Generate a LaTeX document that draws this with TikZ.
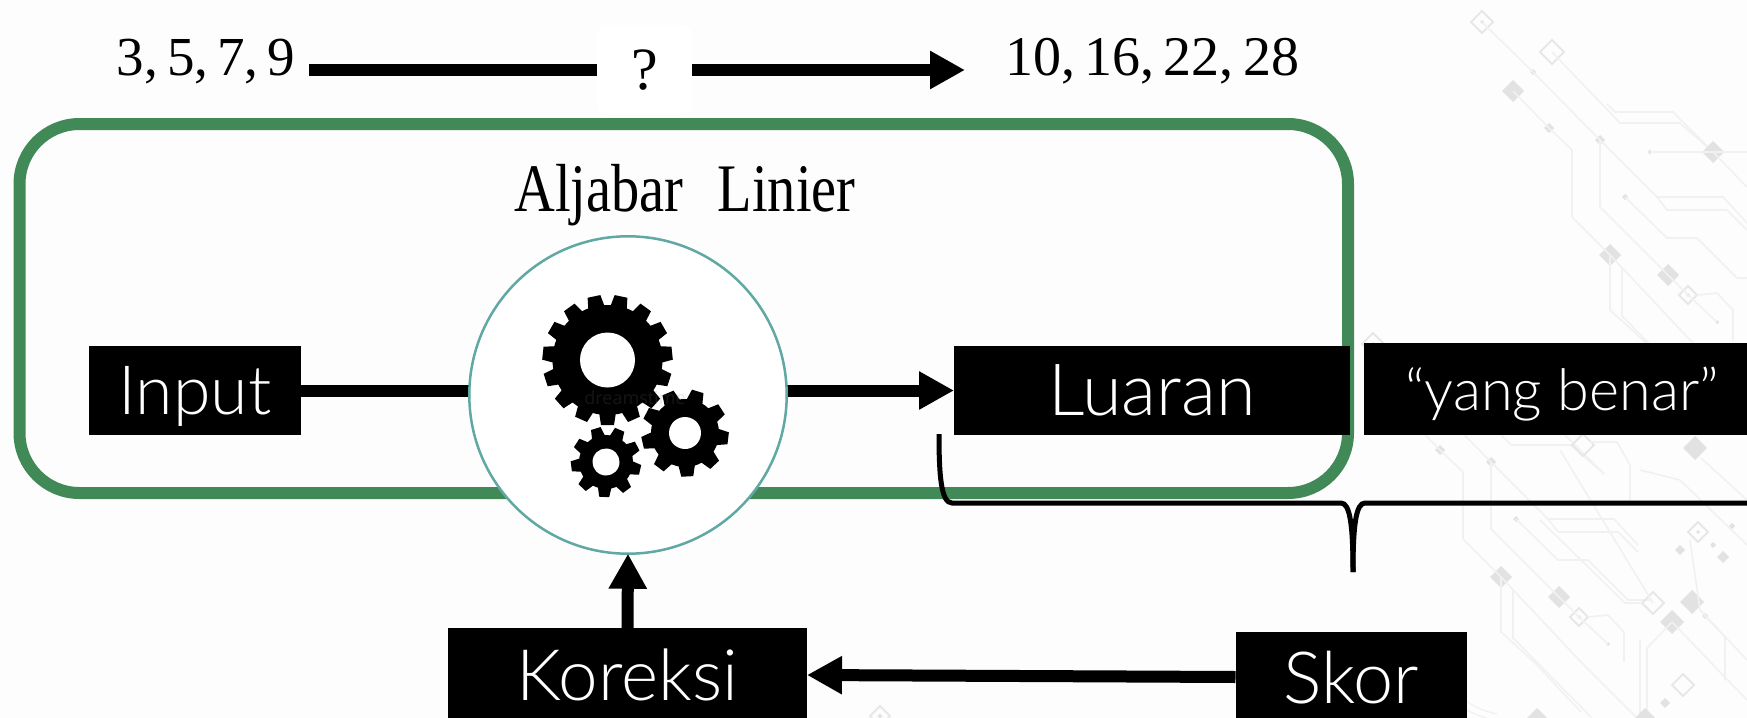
\documentclass[tikz,border=0pt]{standalone}
\usepackage{fontspec}
\usetikzlibrary{arrows.meta,calc}
\setmainfont{Liberation Serif}
\newfontfamily\rw{Lato Light}
\newfontfamily\wm{Open Sans}
\definecolor{bgc}{HTML}{FDFDFD}
\definecolor{greenb}{HTML}{418A58}
\definecolor{tealc}{HTML}{5FA8A3}
\definecolor{cline}{HTML}{F1F1F1}
\definecolor{cfill}{HTML}{E2E2E2}
\tikzset{
  blackbox/.style={fill=black,text=white,inner sep=0pt,outer sep=0pt,text depth=0pt,font=\rw\fontsize{34}{40}\selectfont},
  thickline/.style={draw=black,line width=6pt},
  thickarrow/.style={thickline,-{Triangle[length=17.5pt,width=18pt]}},
  bracel/.style={draw=black,line width=2.5pt},
  numlabel/.style={inner sep=0pt,outer sep=0pt,anchor=base,font=\fontsize{27.5}{32}\selectfont},
  cl/.style={draw=cline,line width=0.8pt},
  fd/.style={fill=cfill},
  od/.style={draw=cline!96!black,line width=0.9pt}
}
\newcommand{\fdia}[3]{\fill[fd] (#1-#3,#2) -- (#1,#2-#3) -- (#1+#3,#2) -- (#1,#2+#3) -- cycle;}
\newcommand{\odia}[3]{\draw[od] (#1-#3,#2) -- (#1,#2-#3) -- (#1+#3,#2) -- (#1,#2+#3) -- cycle;}
\newcommand{\circuitcommon}{%
  \odia{1482}{22}{11}\fdia{1482}{22}{2}
  \odia{1552}{52}{12}
  \fdia{1513}{91}{11}\fdia{1533}{72}{3}\fdia{1549}{128}{5}\fdia{1600}{140}{5}
  \fdia{1625}{197}{3}
  \fdia{1610}{255}{11}\fdia{1668}{275}{11}
  \odia{1688}{295}{9}\fdia{1688}{295}{2}\fdia{1717}{322}{2}
  \draw[cl] (1482,22) -- (1533,72) -- (1600,140) -- (1657,197) -- (1723,197) -- (1747,223);
  \draw[cl] (1657,197) -- (1667,210) -- (1727,210) -- (1747,230);
  \draw[cl] (1552,52) -- (1620,123) -- (1680,123) -- (1713,152);
  \draw[cl] (1607,104) -- (1615,112) -- (1673,112) -- (1713,152);
  \draw[cl] (1513,91) -- (1549,128) -- (1572,150) -- (1572,217) -- (1610,255) -- (1690,340) -- (1760,410);
  \draw[cl] (1600,140) -- (1600,207) -- (1668,275) -- (1688,295) -- (1717,322);
  \draw[cl] (1625,197) -- (1667,238) -- (1697,238) -- (1737,278) -- (1760,278);
  \draw[cl] (1610,255) -- (1610,310) -- (1643,340) -- (1690,390);
  \draw[cl] (1622,267) -- (1622,316) -- (1700,395);
  \draw[cl] (1697,295) -- (1717,293) -- (1733,310) -- (1733,340);
}
\newcommand{\gearshape}[9]{%
  \begin{scope}[shift={(#1,#2)},rotate=#7]
    \fill[black] (0,0) circle[radius=#3];
    \foreach \k in {1,...,#6}{
      \fill[black,rotate=\k*360/#6] (#3-3,-#9) -- (#4,-#8) -- (#4,#8) -- (#3-3,#9) -- cycle;
    }
    \fill[white] (0,0) circle[radius=#5];
  \end{scope}
}
\begin{document}
\begin{tikzpicture}[x=0.5pt,y=-0.5pt]
\useasboundingbox (0,0) rectangle (1747,718);
\fill[bgc] (0,0) rectangle (1747,718);
% faint circuit background
\begin{scope}
  \clip (0,0) rectangle (1747,718);
  \circuitcommon
  \fdia{1713}{152}{11}\fdia{1650}{152}{2.5}
  \draw[cl] (1650,152) -- (1747,152);
  \draw[cl] (1713,152) -- (1747,187);
  \begin{scope}[shift={(-109,322)}]
    \circuitcommon
  \end{scope}
  \odia{1583}{445}{11}\fdia{1695}{448}{12}
  \draw[cl] (1590,442) -- (1617,442) -- (1630,465) -- (1630,500);
  \draw[cl] (1640,470) -- (1680,480) -- (1747,545);
  \draw[cl] (1701,458) -- (1747,500);
  \odia{1698}{532}{10}\fdia{1698}{532}{2}\fdia{1680}{550}{5}\fdia{1713}{545}{3}\fdia{1732}{526}{3}\fdia{1723}{557}{6}
  \odia{1653}{603}{11}\fdia{1692}{602}{12}\fdia{1672}{622}{12}
  \odia{1683}{685}{11}\fdia{1665}{703}{5}\fdia{1705}{616}{3}
  \draw[cl] (1560,450) -- (1653,603);
  \draw[cl] (1642,603) -- (1625,603) -- (1540,520);
  \draw[cl] (1672,622) -- (1647,648) -- (1647,718);
  \draw[cl] (1705,616) -- (1725,637) -- (1725,680);
  \draw[cl] (1672,622) -- (1747,700);
  \draw[cl] (1690,540) -- (1700,610) -- (1747,660);
  \draw[cl] (1640,640) -- (1640,718);
  \fdia{1537}{718}{10}\fdia{1645}{718}{10}
  \odia{880}{716}{10}\fdia{880}{716}{2.5}
  \draw[cline,line width=0.6pt] (1422,632) arc[start angle=180,end angle=95,radius=90];
  \draw[cline,line width=0.6pt] (1435,640) arc[start angle=180,end angle=100,radius=75];
\end{scope}
% green frame
\draw[greenb,line width=6pt,rounded corners=30pt] (19.5,124) rectangle (1348,493);
% top row
\node[numlabel,minimum width=103pt] (nin) at (206,75) {3,\,5,\,7,\,9};
\node[numlabel,minimum width=187pt,font=\fontsize{28}{32}\selectfont] (nout) at (1152,75) {10,\,16,\,22,\,28};
\node[fill=white,rounded corners=5pt,inner sep=0pt,outer sep=0pt,minimum width=47.5pt,minimum height=45pt,font=\fontsize{30}{34}\selectfont] (q) at (644.5,70) {?};
\draw[thickline] (q.west -| nin.east) -- (q.west);
\draw[thickarrow] (q.east) -- (q.east -| nout.west);
% label
\node[inner sep=0pt,anchor=base,font=\fontsize{34}{40}\selectfont] (alj) at (685,211) {\scalebox{0.83}[1]{Aljabar\hspace{0.35em} Linier}};
% boxes
\node[blackbox,minimum width=106pt,minimum height=44.5pt] (input) at (195,390.5) {Input};
\node[blackbox,minimum width=198pt,minimum height=44.5pt,font=\rw\fontsize{36}{42}\selectfont] (luaran) at (1152,390.5) {Luaran};
\node[blackbox,minimum width=198.5pt,minimum height=46pt,font=\rw\fontsize{28.8}{34}\selectfont] (benar) at (1562,389) {“yang benar”};
\node[blackbox,minimum width=179.5pt,minimum height=47pt,font=\rw\fontsize{35.5}{42}\selectfont] (koreksi) at (627.5,675) {Koreksi};
\node[blackbox,minimum width=115.5pt,minimum height=45pt,font=\rw\fontsize{36}{42}\selectfont] (skor) at (1351,677) {Skor};
% connectors under the circle
\draw[thickline] (input.east) -- (input.east -| 700,0);
\draw[thickarrow] (luaran.west -| 600,0) -- (luaran.west);
% circle with gears
\node[circle,draw=tealc,line width=1.25pt,fill=white,inner sep=0pt,outer sep=0pt,minimum size=158.7pt] (proc) at (628,395) {};
\gearshape{607.5}{360}{55}{65}{27.5}{15}{-90}{6.5}{8.5}
\gearshape{685}{433}{34}{43.5}{16}{9}{73}{6}{8.5}
\gearshape{606}{462}{27}{35}{13.5}{9}{67}{5}{7}
\node[inner sep=0pt,opacity=0.17,text=gray,font=\wm\fontsize{9}{10}\selectfont] (wm) at (635,398) {dreamstime};
% feedback arrows
\draw[thickarrow] (koreksi.north) -- (proc.south);
\draw[thickarrow] (skor.west) -- (koreksi.east);
% brace
\coordinate (bstart) at (939,434);
\coordinate (btip) at (1353,572);
\coordinate (bend) at (1760,503);
\draw[bracel] (bstart) .. controls (939,475) and (941,503) .. (952,503) -- (1341,503) .. controls (1350,503) and (1353,525) .. (btip);
\draw[bracel] (bend) -- (1365,503) .. controls (1356,503) and (1353,525) .. (btip);
\end{tikzpicture}
\end{document}
